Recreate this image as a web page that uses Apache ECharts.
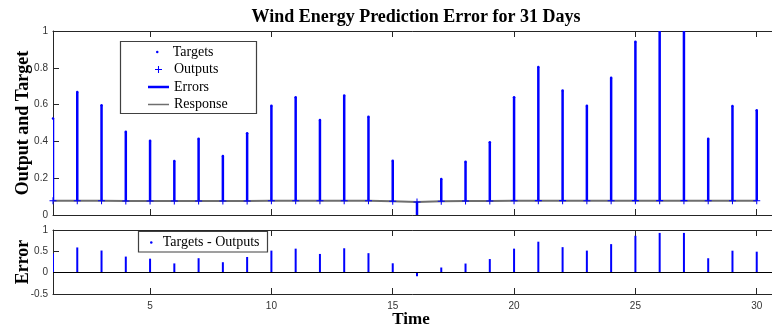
<!DOCTYPE html>
<html>
<head>
<meta charset="utf-8">
<script src="https://cdn.jsdelivr.net/npm/echarts@6/dist/echarts.min.js"></script>
<style>
  html, body { margin: 0; padding: 0; background: #fff; }
  #chart { width: 772px; height: 331px; }
</style>
</head>
<body>
<div id="chart"></div>
<script>
// values
const days = [1, 2, 3, 4, 5, 6, 7, 8, 9, 10, 11, 12, 13, 14, 15, 16, 17, 18, 19, 20, 21, 22, 23, 24, 25, 26, 27, 28, 29, 30];
const targets = [0.525, 0.668, 0.596, 0.453, 0.404, 0.293, 0.415, 0.321, 0.444, 0.594, 0.640, 0.516, 0.649, 0.534, 0.295, -0.012, 0.196, 0.290, 0.395, 0.640, 0.804, 0.676, 0.594, 0.746, 0.942, 1.010, 1.010, 0.415, 0.592, 0.569];
const outputs = [0.077, 0.077, 0.077, 0.076, 0.076, 0.076, 0.076, 0.076, 0.076, 0.077, 0.077, 0.077, 0.077, 0.077, 0.075, 0.071, 0.075, 0.076, 0.076, 0.077, 0.078, 0.078, 0.077, 0.077, 0.078, 0.078, 0.078, 0.077, 0.077, 0.077];
const xTicks = [5, 10, 15, 20, 25, 30];

const errors = targets.map((t, i) => +(t - outputs[i]).toFixed(3));

const blue = '#0000ff';
const axisColor = '#262626';
const serif = 'Liberation Serif';
const sans = 'Liberation Sans';
const plusPath = 'path://M3.4,0H4.6V3.4H8V4.6H4.6V8H3.4V4.6H0V3.4H3.4Z';

const chart = echarts.init(document.getElementById('chart'));

const xBase = {
  type: 'value',
  min: 1,
  max: 31,
  splitLine: { show: false },
  axisLine: { show: true, onZero: false, lineStyle: { color: axisColor, width: 1 } },
  axisTick: { show: true, inside: true, length: 6, customValues: xTicks, lineStyle: { color: axisColor } },
  axisLabel: { show: false, customValues: xTicks },
};

const yBase = {
  type: 'value',
  splitLine: { show: false },
  axisLine: { show: true, lineStyle: { color: axisColor, width: 1 } },
  axisTick: { show: true, inside: true, length: 6, lineStyle: { color: axisColor } },
  axisLabel: { fontFamily: sans, fontSize: 10, color: '#333', margin: 5 },
  nameLocation: 'middle',
  nameMoveOverlap: false,
  nameTextStyle: { fontFamily: serif, fontWeight: 'bold', fontSize: 18, color: '#000' },
};

const stemItem = (lineWidth) => (params, api) => {
  const p0 = api.coord([api.value(0), api.value(1)]);
  const p1 = api.coord([api.value(0), api.value(2)]);
  return {
    type: 'line',
    shape: { x1: p0[0], y1: p0[1], x2: p1[0], y2: p1[1] },
    style: { stroke: blue, lineWidth: lineWidth },
  };
};

const legendRow = (name, top, icon, h, left, w, color) => ({
  data: [{ name: name, icon: icon, itemStyle: { color: color } }],
  left: left,
  top: top,
  padding: 0,
  itemWidth: w,
  itemHeight: h,
  selectedMode: false,
  textStyle: { fontFamily: serif, fontSize: 14, color: '#000', lineHeight: 16 },
});

chart.setOption({
  animation: false,
  backgroundColor: '#fff',
  grid: [
    { left: 53, top: 31, width: 728, height: 184, outerBoundsMode: 'none' },
    { left: 53, top: 230, width: 728, height: 64, outerBoundsMode: 'none' },
  ],
  xAxis: [
    Object.assign({}, xBase, { gridIndex: 0, position: 'bottom' }),
    Object.assign({}, xBase, { gridIndex: 0, position: 'top' }),
    Object.assign({}, xBase, { gridIndex: 1, position: 'bottom',
      axisLabel: { show: true, customValues: xTicks, fontFamily: sans, fontSize: 10, color: '#333', margin: 7 } }),
    Object.assign({}, xBase, { gridIndex: 1, position: 'top' }),
  ],
  yAxis: [
    Object.assign({}, yBase, { gridIndex: 0, min: 0, max: 1, interval: 0.2, name: 'Output and Target', nameGap: 21 }),
    Object.assign({}, yBase, { gridIndex: 1, min: -0.5, max: 1, interval: 0.5, name: 'Error', nameGap: 21 }),
  ],
  legend: [
    legendRow('Targets', 44, 'circle', 2.5, 156, 21, blue),
    legendRow('Outputs', 61.5, plusPath, 7, 155, 21, blue),
    legendRow('Errors', 79, 'rect', 2.5, 148, 21, blue),
    legendRow('Response', 96.5, 'rect', 1.5, 148, 21, '#6e6e6e'),
    legendRow('Targets - Outputs', 234.5, 'circle', 2.5, 150, 13, blue),
  ],
  graphic: [
    { type: 'rect', z: 3, shape: { x: 120.5, y: 41.5, width: 136, height: 72 },
      style: { fill: '#fff', stroke: '#404040', lineWidth: 1.2 } },
    { type: 'rect', z: 3, shape: { x: 138.5, y: 231.5, width: 129, height: 20.5 },
      style: { fill: '#fff', stroke: '#404040', lineWidth: 1.2 } },
    { type: 'text', x: 416, y: 17, z: 5,
      style: { text: 'Wind Energy Prediction Error for 31 Days', fontFamily: serif, fontWeight: 'bold',
        fontSize: 18, fill: '#000', align: 'center', verticalAlign: 'middle' } },
    { type: 'text', x: 411, y: 320, z: 5,
      style: { text: 'Time', fontFamily: serif, fontWeight: 'bold',
        fontSize: 17, fill: '#000', align: 'center', verticalAlign: 'middle' } },
  ],
  series: [
    {
      name: 'Response',
      type: 'line',
      xAxisIndex: 0,
      yAxisIndex: 0,
      data: days.map((d, i) => [d, outputs[i]]),
      symbol: 'none',
      color: '#6e6e6e',
      lineStyle: { color: '#6e6e6e', width: 2 },
      z: 1,
    },
    {
      name: 'Errors',
      type: 'custom',
      xAxisIndex: 0,
      yAxisIndex: 0,
      clip: true,
      itemStyle: { color: blue },
      data: days.map((d, i) => [d, outputs[i], targets[i]]),
      renderItem: stemItem(2.5),
      z: 2,
    },
    {
      name: 'Outputs',
      type: 'scatter',
      xAxisIndex: 0,
      yAxisIndex: 0,
      symbol: plusPath,
      symbolSize: 7,
      itemStyle: { color: blue, opacity: 1 },
      data: days.map((d, i) => [d, outputs[i]]),
      z: 3,
    },
    {
      name: 'Targets',
      type: 'scatter',
      xAxisIndex: 0,
      yAxisIndex: 0,
      symbol: 'circle',
      symbolSize: 2.5,
      itemStyle: { color: blue, opacity: 1 },
      data: days.map((d, i) => [d, targets[i]]),
      z: 3,
    },
    {
      name: 'Targets - Outputs',
      type: 'custom',
      xAxisIndex: 2,
      yAxisIndex: 1,
      clip: true,
      itemStyle: { color: blue },
      data: days.map((d, i) => [d, 0, errors[i]]),
      renderItem: stemItem(2),
      markLine: {
        silent: true,
        symbol: 'none',
        label: { show: false },
        lineStyle: { color: '#000', width: 1, type: 'solid' },
        data: [{ yAxis: 0 }],
      },
      z: 2,
    },
  ],
});
</script>
</body>
</html>
